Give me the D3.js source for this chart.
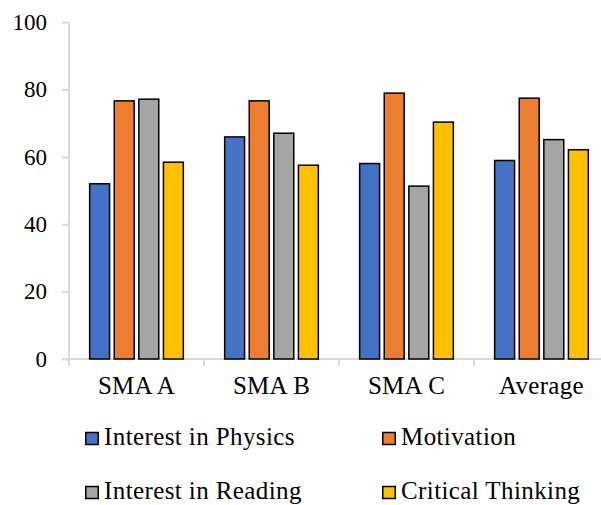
<!DOCTYPE html>
<html>
<head>
<meta charset="utf-8">
<script src="https://cdn.jsdelivr.net/npm/d3@7"></script>
<style>
  body { margin: 0; background: #fff; }
  svg { display: block; font-family: 'Liberation Serif', 'DejaVu Serif', serif; }
</style>
</head>
<body>
<svg id="chart" width="601" height="505"></svg>
<script>
const categories = ['SMA A', 'SMA B', 'SMA C', 'Average']
const series = ['Interest in Physics', 'Motivation', 'Interest in Reading', 'Critical Thinking']
const physics = [52, 65.9, 58, 58.9]
const motivation = [76.6, 76.6, 78.9, 77.4]
const reading = [77.1, 67, 51.3, 65.1]
const critical = [58.4, 57.5, 70.3, 62.1]
const yTickValues = [0, 20, 40, 60, 80, 100]
const colors = ['#4472C4', '#ED7D31', '#A5A5A5', '#FFC000']

const svg = d3.select('#chart')
const axisColor = '#d9d9d9'
const plotLeft = 69, plotRight = 609, plotTop = 22, plotBottom = 359

const values = [physics, motivation, reading, critical]
const data = categories.map((c, i) => ({
  cat: c,
  vals: series.map((s, j) => ({ key: s, value: values[j][i], color: colors[j] }))
}))

const x0 = d3.scaleBand().domain(categories).range([plotLeft, plotRight]).padding(0)
const x1 = d3.scaleBand().domain(series).range([0, x0.bandwidth()])
  .paddingInner(0.19).paddingOuter(0.84)
const y = d3.scaleLinear().domain([0, 100]).range([plotBottom, plotTop])

// y axis: line + small ticks on the left
const yAxis = d3.axisLeft(y).tickValues(yTickValues).tickSize(7).tickPadding(15)
const gy = svg.append('g').attr('transform', `translate(${plotLeft},0)`).call(yAxis)
gy.select('.domain').remove()
gy.append('line').attr('x1', 0).attr('x2', 0).attr('y1', plotTop).attr('y2', plotBottom + 7)
  .attr('stroke', axisColor).attr('stroke-width', 2)
gy.selectAll('.tick line').attr('stroke', axisColor).attr('stroke-width', 2)
gy.selectAll('.tick text').attr('fill', '#000').style('font-size', '23px')
  .style('font-family', "'Liberation Serif', serif")

// x axis: baseline + category boundary ticks
const gx = svg.append('g')
gx.append('line').attr('x1', plotLeft - 7).attr('x2', plotRight).attr('y1', plotBottom).attr('y2', plotBottom)
  .attr('stroke', axisColor).attr('stroke-width', 2)
gx.selectAll('line.bound')
  .data(categories)
  .enter()
  .append('line')
  .attr('class', 'bound')
  .attr('x1', d => x0(d)).attr('x2', d => x0(d))
  .attr('y1', plotBottom).attr('y2', plotBottom + 7)
  .attr('stroke', axisColor).attr('stroke-width', 2)
gx.selectAll('text')
  .data(categories)
  .enter()
  .append('text')
  .attr('x', d => x0(d) + x0.bandwidth() / 2)
  .attr('y', 394)
  .attr('text-anchor', 'middle')
  .style('font-size', '25px')
  .style('letter-spacing', '0.3px')
  .text(d => d)

// bars
const groups = svg.selectAll('g.cat')
  .data(data)
  .enter()
  .append('g')
  .attr('class', 'cat')
  .attr('transform', d => `translate(${x0(d.cat)},0)`)

groups.selectAll('rect')
  .data(d => d.vals)
  .enter()
  .append('rect')
  .attr('x', d => x1(d.key))
  .attr('y', d => y(d.value))
  .attr('width', x1.bandwidth())
  .attr('height', d => y(0) - y(d.value))
  .attr('fill', d => d.color)
  .attr('stroke', '#000')
  .attr('stroke-width', 1.5)

// legend, 2 x 2
const legendX = [85, 382]
const legendY = [445, 499]
const legend = svg.selectAll('g.legend')
  .data(series)
  .enter()
  .append('g')
  .attr('class', 'legend')
  .attr('transform', (d, i) => `translate(${legendX[i % 2]},${legendY[Math.floor(i / 2)]})`)
legend.append('rect')
  .attr('x', 0.75).attr('y', -12.5)
  .attr('width', 12.5).attr('height', 12)
  .attr('fill', (d, i) => colors[i])
  .attr('stroke', '#000').attr('stroke-width', 1.5)
legend.append('text')
  .attr('x', 19).attr('y', 0)
  .style('font-size', '25px')
  .style('letter-spacing', '0.4px')
  .text(d => d)
</script>
</body>
</html>
